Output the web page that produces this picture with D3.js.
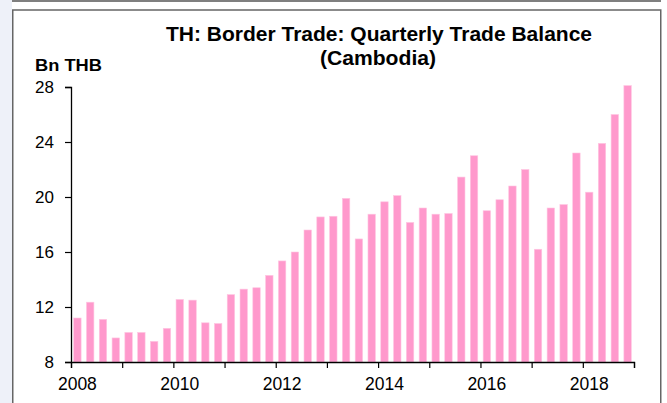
<!DOCTYPE html>
<html>
<head>
<meta charset="utf-8">
<script src="https://cdn.jsdelivr.net/npm/d3@7"></script>
<style>
  html, body { margin: 0; padding: 0; background: #ffffff; }
  svg { display: block; }
  text { font-family: "Liberation Sans", Arial, sans-serif; fill: #000; }
</style>
</head>
<body>
<svg id="chart" width="667" height="403"></svg>
<script>
// ---- data ----
const years = [2008, 2009, 2010, 2011, 2012, 2013, 2014, 2015, 2016, 2017, 2018];
const quarters = ["Q1", "Q2", "Q3", "Q4"];
const tradeBalance = [
  11.2, 12.35, 11.1, 9.75,
  10.15, 10.15, 9.5, 10.45,
  12.55, 12.5, 10.85, 10.8,
  12.9, 13.3, 13.4, 14.3,
  15.35, 16.0, 17.6, 18.55,
  18.6, 19.9, 16.95, 18.75,
  19.65, 20.1, 18.15, 19.2,
  18.75, 18.8, 21.45, 23.0,
  19.0, 19.8, 20.8, 22.0,
  16.2, 19.2, 19.45, 23.2,
  20.35, 23.9, 26.0, 28.1
];
const yTicks = [8, 12, 16, 20, 24, 28];
const yearLabels = [2008, 2010, 2012, 2014, 2016, 2018];
const titleLines = ["TH: Border Trade: Quarterly Trade Balance", "(Cambodia)"];
const unitLabel = "Bn THB";

const periods = [];
years.forEach(y => quarters.forEach(q => periods.push(y + q)));
const data = periods.map((p, i) => ({ period: p, value: tradeBalance[i] }));

// ---- layout ----
const svg = d3.select("#chart");
const W = 667, H = 403;
const plotLeft = 71, plotRight = 634, plotTop = 87, plotBottom = 362;

// background pieces
svg.append("rect").attr("x", 0).attr("y", 0).attr("width", 12).attr("height", H).attr("fill", "#eef1f9");
svg.append("line").attr("x1", 12).attr("x2", 661).attr("y1", 1).attr("y2", 1)
  .attr("stroke", "#555").attr("stroke-width", 1.5);
svg.append("rect").attr("x", 12.75).attr("y", 10).attr("width", 648).attr("height", H)
  .attr("fill", "#ffffff").attr("stroke", "#666").attr("stroke-width", 1.5);

const x = d3.scaleBand().domain(periods).range([plotLeft, plotRight]).paddingInner(0.42).paddingOuter(0.21);
const xYear = d3.scaleLinear().domain([years[0], years[years.length - 1] + 1]).range([plotLeft, plotRight]);
const y = d3.scaleLinear().domain([8, 28]).range([plotBottom, plotTop]);

// bars
svg.append("g").selectAll("rect").data(data).join("rect")
  .attr("x", d => x(d.period))
  .attr("y", d => y(d.value))
  .attr("width", x.bandwidth())
  .attr("height", d => y(8) - y(d.value))
  .attr("fill", "#ff99cc")
  .attr("stroke", "#ffc6e2")
  .attr("stroke-width", 0.6);

// y axis
const yAxis = svg.append("g").attr("transform", `translate(${plotLeft},0)`)
  .call(d3.axisLeft(y).tickValues(yTicks).tickSize(6).tickPadding(11).tickFormat(d3.format("d")));
yAxis.select(".domain").attr("stroke", "#000").attr("stroke-width", 1.3);
yAxis.selectAll(".tick line").attr("stroke", "#000").attr("stroke-width", 1.2);
yAxis.selectAll("text").style("font-size", "17px").style("font-family", "Liberation Sans, Arial, sans-serif").attr("fill", "#000");

// x axis: ticks at year boundaries
const xAxis = svg.append("g").attr("transform", `translate(0,${plotBottom})`)
  .call(d3.axisBottom(xYear).tickValues(d3.range(years[0], years[years.length - 1] + 2)).tickSize(6).tickFormat(""));
xAxis.select(".domain").attr("stroke", "#000").attr("stroke-width", 1.3);
xAxis.selectAll(".tick line").attr("stroke", "#000").attr("stroke-width", 1.2);

// x labels centered on the first quarter of each labelled year
svg.append("g").selectAll("text").data(yearLabels).join("text")
  .attr("x", d => x(d + "Q1") + x.bandwidth() / 2)
  .attr("y", 390)
  .attr("text-anchor", "middle")
  .style("font-size", "17.5px")
  .text(d => d);

// titles
svg.append("text").attr("x", 379).attr("y", 41).attr("text-anchor", "middle")
  .style("font-size", "20px").style("font-weight", "bold")
  .attr("textLength", 426).attr("lengthAdjust", "spacingAndGlyphs").text(titleLines[0]);
svg.append("text").attr("x", 378).attr("y", 65).attr("text-anchor", "middle")
  .style("font-size", "20px").style("font-weight", "bold")
  .attr("textLength", 116).attr("lengthAdjust", "spacingAndGlyphs").text(titleLines[1]);
svg.append("text").attr("x", 35).attr("y", 71).attr("text-anchor", "start")
  .style("font-size", "17px").style("font-weight", "bold")
  .attr("textLength", 67).attr("lengthAdjust", "spacingAndGlyphs").text(unitLabel);
</script>
</body>
</html>
